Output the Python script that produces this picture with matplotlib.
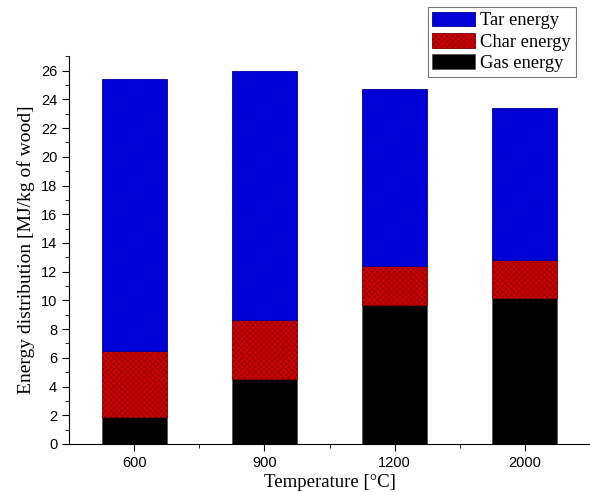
import numpy as np
import matplotlib.pyplot as plt
from matplotlib.ticker import MultipleLocator, FixedLocator

temps = ['600', '900', '1200', '2000']
gas = [1.9, 4.5, 9.7, 10.2]
char = [4.6, 4.1, 2.7, 2.6]
tar = [18.9, 17.4, 12.3, 10.6]

plt.rcParams['hatch.linewidth'] = 0.45

fig = plt.figure(figsize=(5.9, 4.92), dpi=100)
ax = fig.add_axes([0.117, 0.0976, 0.883, 0.788])

x = np.arange(len(temps))
w = 0.5
b_gas = ax.bar(x, gas, w, color='black', edgecolor='#555555', linewidth=0.6,
               label='Gas energy')
b_char = ax.bar(x, char, w, bottom=gas, color='#d40000', edgecolor='#7a0000',
                hatch='xxxxxx', linewidth=0.6, label='Char energy')
bottom2 = np.array(gas) + np.array(char)
b_tar = ax.bar(x, tar, w, bottom=bottom2, color='#0000e6', edgecolor='#00009a',
               hatch='////////', linewidth=0.6, label='Tar energy')

ax.set_xlim(-0.5, 3.5)
ax.set_ylim(0, 27)
ax.set_xticks(x)
ax.set_xticklabels(temps)
ax.xaxis.set_minor_locator(FixedLocator([0.5, 1.5, 2.5]))
ax.yaxis.set_major_locator(MultipleLocator(2))
ax.yaxis.set_minor_locator(MultipleLocator(1))
ax.tick_params(which='major', direction='out', length=5, labelsize=10.5)
ax.tick_params(which='minor', direction='out', length=3)
for lab in ax.get_xticklabels() + ax.get_yticklabels():
    lab.set_family('Liberation Sans')

ax.spines['top'].set_visible(False)
ax.spines['right'].set_visible(False)

ax.set_xlabel('Temperature [\u00b0C]', family='Liberation Serif', fontsize=13.5,
              labelpad=3)
ax.set_ylabel('Energy distribution [MJ/kg of wood]', family='Liberation Serif',
              fontsize=14, labelpad=4)

leg = fig.legend(handles=[b_tar, b_char, b_gas],
                 labels=['Tar energy', 'Char energy', 'Gas energy'],
                 loc='upper right', bbox_to_anchor=(0.976, 0.986),
                 prop={'family': 'Liberation Serif', 'size': 13.3},
                 fancybox=False, edgecolor='#777777', framealpha=1,
                 handlelength=2.3, handleheight=0.85, labelspacing=0.2,
                 borderpad=0.25, handletextpad=0.3, borderaxespad=0)
leg.get_frame().set_linewidth(0.8)

fig.savefig('out.png', dpi=100)
